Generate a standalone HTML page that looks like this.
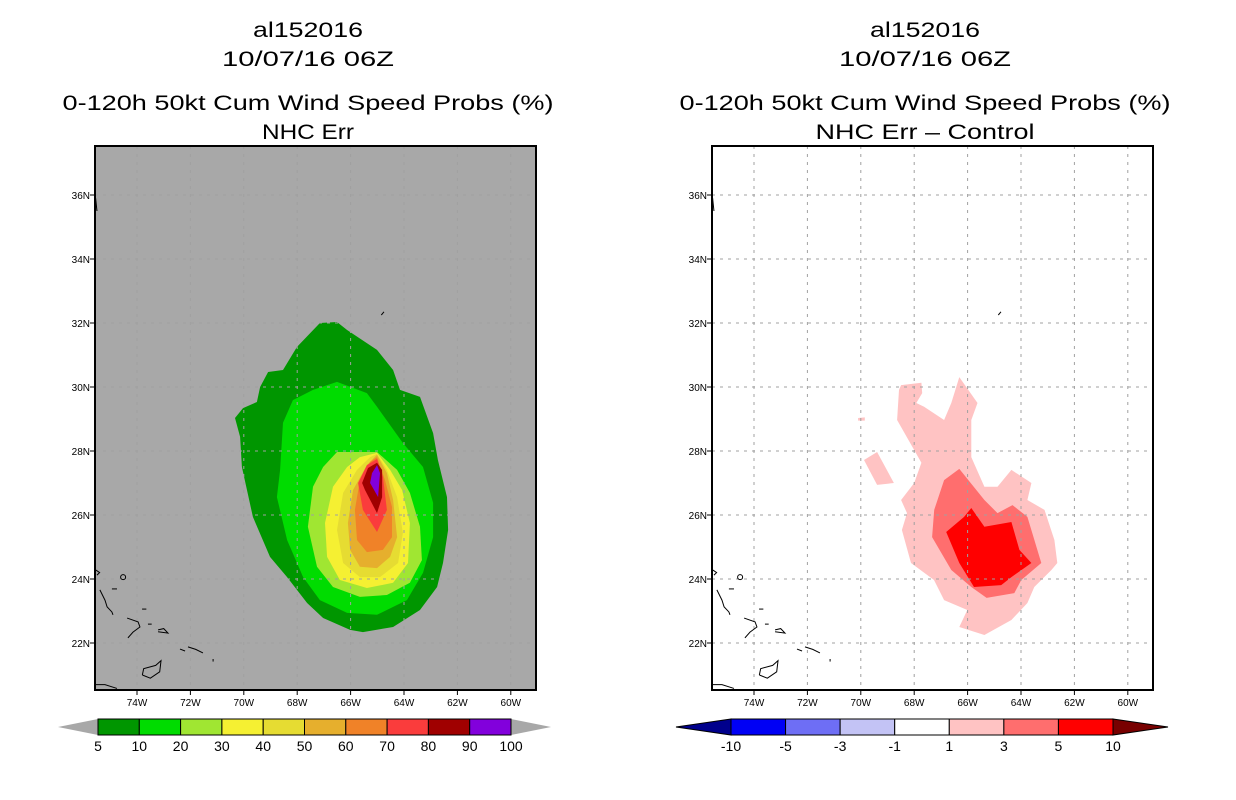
<!DOCTYPE html>
<html><head><meta charset="utf-8"><style>
html,body{margin:0;padding:0;background:#fff;}
svg{display:block;font-family:"Liberation Sans",sans-serif;}
</style></head><body>
<svg id="fig" width="1236" height="800" viewBox="0 0 1236 800">
<rect width="1236" height="800" fill="#fff"/>
</svg>
<script>
// ---- data ----
const lonTicks = [-74,-72,-70,-68,-66,-64,-62,-60];
const lonLabels = ["74W","72W","70W","68W","66W","64W","62W","60W"];
const latTicks = [36,34,32,30,28,26,24,22];
const latLabels = ["36N","34N","32N","30N","28N","26N","24N","22N"];

const probLevels = ["5","10","20","30","40","50","60","70","80","90","100"];
const probColors = ["#009600","#00dc00","#a0e632","#f5f032","#e6dc32","#e6af2d","#f08228","#fa3c3c","#a00000","#8200dc"];
const diffLevels = ["-10","-5","-3","-1","1","3","5","10"];
const diffColors = ["#0000f5","#6e6ef5","#c3c3f5","#ffffff","#ffc3c3","#ff6e6e","#ff0000"];

const p5 = [[-67.15,32.0],[-66.51,32.03],[-66.13,31.78],[-65.01,31.16],[-64.41,30.53],[-64.15,29.91],[-63.4,29.69],[-62.91,28.56],[-62.73,27.72],[-62.39,26.56],[-62.35,25.53],[-62.54,24.5],[-62.76,23.75],[-63.4,23.03],[-64.41,22.5],[-65.54,22.34],[-66.02,22.41],[-67.03,22.78],[-67.63,23.25],[-68.38,24.06],[-69.02,24.69],[-69.66,25.94],[-70.07,27.5],[-70.14,28.44],[-70.33,29.03],[-70.03,29.34],[-69.51,29.53],[-69.39,30.0],[-69.09,30.47],[-68.53,30.53],[-68.01,31.25]];
const p10 = [[-66.51,30.16],[-65.39,29.81],[-65.01,29.38],[-64.04,28.25],[-63.29,27.5],[-62.91,26.38],[-62.91,25.31],[-63.29,24.19],[-63.89,23.34],[-65.01,22.88],[-66.13,22.94],[-67.15,23.34],[-67.78,24.06],[-68.38,25.22],[-68.76,26.56],[-68.64,27.41],[-68.53,28.88],[-68.16,29.59],[-67.41,29.91]];
const p20 = [[-66.51,27.97],[-65.01,27.97],[-64.26,27.41],[-63.78,26.69],[-63.4,25.63],[-63.33,24.59],[-63.78,23.88],[-64.64,23.5],[-65.65,23.44],[-66.66,23.75],[-67.26,24.38],[-67.6,25.63],[-67.41,26.88],[-67.03,27.5]];
const p30 = [[-65.01,27.94],[-64.52,27.41],[-64.07,26.78],[-63.78,25.75],[-63.85,24.5],[-64.41,23.88],[-65.39,23.72],[-66.4,23.97],[-66.88,24.69],[-66.96,25.75],[-66.66,26.88],[-66.13,27.5],[-65.65,27.81]];
const p40 = [[-65.01,27.91],[-64.64,27.41],[-64.26,26.56],[-64.04,25.44],[-64.22,24.5],[-64.9,24.06],[-65.65,24.06],[-66.28,24.5],[-66.51,25.53],[-66.28,26.69],[-65.76,27.41],[-65.27,27.81]];
const p50 = [[-65.01,27.88],[-64.64,27.31],[-64.41,26.47],[-64.26,25.31],[-64.52,24.69],[-65.01,24.34],[-65.65,24.38],[-66.02,24.91],[-66.1,25.75],[-65.91,26.78],[-65.39,27.56]];
const p60 = [[-65.01,27.81],[-64.71,27.09],[-64.45,26.25],[-64.45,25.31],[-64.79,24.91],[-65.39,24.84],[-65.76,25.22],[-65.84,26.16],[-65.65,27.09],[-65.27,27.66]];
const p70 = [[-65.01,27.75],[-64.79,27.19],[-64.64,26.16],[-65.01,25.47],[-65.54,26.16],[-65.72,27.0],[-65.39,27.56]];
const p80 = [[-65.01,27.63],[-64.82,27.41],[-64.82,26.56],[-65.01,26.06],[-65.46,26.78],[-65.57,27.0],[-65.35,27.47]];
const p90 = [[-65.01,27.56],[-64.9,27.31],[-64.97,26.56],[-65.27,27.0],[-65.2,27.31]];

const d1 = [[-68.49,30.06],[-67.73,30.13],[-67.7,29.81],[-67.92,29.5],[-67.63,29.38],[-66.88,28.97],[-66.61,29.5],[-66.31,30.31],[-65.63,29.5],[-65.86,28.97],[-65.86,27.81],[-65.37,26.88],[-64.88,26.88],[-64.36,27.41],[-63.61,27.0],[-63.76,26.47],[-63.12,26.16],[-62.75,25.22],[-62.64,24.5],[-62.86,24.28],[-63.5,23.75],[-63.76,23.25],[-64.36,22.72],[-65.37,22.25],[-66.31,22.5],[-66.01,23.03],[-66.88,23.34],[-67.26,23.97],[-68.12,24.5],[-68.46,25.53],[-68.27,26.06],[-68.49,26.47],[-68.0,27.0],[-67.73,27.63],[-68.64,28.97],[-68.57,29.91]];
const d1b = [[-69.88,27.72],[-69.39,27.97],[-68.76,27.0],[-69.39,26.94]];
const d1c = [[-70.1,29.03],[-69.85,29.05],[-69.85,28.95],[-70.1,28.95]];
const d3 = [[-66.31,27.44],[-65.37,26.47],[-64.88,26.06],[-64.32,26.31],[-63.76,25.94],[-63.24,24.5],[-63.99,23.97],[-64.25,23.56],[-65.29,23.41],[-65.86,23.75],[-66.61,24.28],[-67.33,25.31],[-67.25,26.16],[-66.88,27.09]];
const d5 = [[-65.86,26.22],[-65.37,25.63],[-64.36,25.78],[-64.06,24.91],[-63.61,24.5],[-64.36,24.06],[-64.74,23.81],[-65.76,23.75],[-66.31,24.5],[-66.8,25.47],[-66.13,25.94]];

const coasts = [
 [[-75.39,23.66],[-75.2,23.34],[-75.12,23.13],[-74.94,22.97],[-74.9,22.88]],
 [[-75.54,24.28],[-75.4,24.2],[-75.5,24.12]],
 [[-74.94,23.69],[-74.75,23.69]],
 [[-73.81,23.06],[-73.65,23.06]],
 [[-74.37,22.78],[-73.96,22.66],[-73.89,22.5],[-74.15,22.34],[-74.34,22.16]],
 [[-73.59,22.59],[-73.45,22.59]],
 [[-73.21,22.41],[-73.0,22.45],[-72.84,22.31],[-73.21,22.35]],
 [[-72.39,21.81],[-72.2,21.75]],
 [[-72.09,21.88],[-71.8,21.8],[-71.53,21.69]],
 [[-71.15,21.5],[-71.15,21.42]],
 [[-73.8,21.0],[-73.5,20.9],[-73.15,21.1],[-73.1,21.45],[-73.3,21.3],[-73.75,21.2],[-73.8,21.0]],
 [[-75.55,20.7],[-75.2,20.7],[-74.75,20.58]],
 [[-75.55,35.9],[-75.5,35.5]],
 [[-64.85,32.25],[-64.75,32.35]]
];
const islandCircle = [[-74.52,24.06]];

// ---- axes ----
const NS="http://www.w3.org/2000/svg";
const svg=document.getElementById('fig');
const FR={x0:95,x1:536,y0:146,y1:690};
const xs=(lon,off)=>off+137+(lon+74)*26.7;
const ys=lat=>195+(36-lat)*32;
function el(tag,attrs,parent){const e=document.createElementNS(NS,tag);for(const k in attrs)e.setAttribute(k,attrs[k]);(parent||svg).appendChild(e);return e;}
function poly(pts,off,fill,g){return el('polygon',{points:pts.map(p=>xs(p[0],off).toFixed(1)+','+ys(p[1]).toFixed(1)).join(' '),fill:fill},g);}

function panel(off,bg,name,t4,layers,diff){
  const g=el('g',{});
  
  
  const cx=off+308;
  const tl=[["al152016",30,110],["10/07/16 06Z",59,172],["0-120h 50kt Cum Wind Speed Probs (%)",103,491],[t4,132,diff?219:92]];
  tl.forEach((t,i)=>{const e=el('text',{x:cx,y:t[1]+7,'text-anchor':'middle','font-size':21,textLength:t[2],lengthAdjust:'spacingAndGlyphs',fill:'#000'},g);e.textContent=t[0];
    
    });
  const clipId='clip'+off;
  const cp=el('clipPath',{id:clipId},g);el('rect',{x:FR.x0+off,y:FR.y0,width:FR.x1-FR.x0,height:FR.y1-FR.y0},cp);
  const plot=el('g',{'clip-path':'url(#'+clipId+')'},g);
  
  
  el('rect',{x:FR.x0+off,y:FR.y0,width:FR.x1-FR.x0,height:FR.y1-FR.y0,fill:bg},plot);
  layers.forEach((L,i)=>{const p=poly(L[0],off,L[1],plot);
    
    });
  lonTicks.forEach(l=>{const x=xs(l,off);const ln=el('line',{x1:x,x2:x,y1:FR.y0,y2:FR.y1,stroke:'#a0a0a0','stroke-width':1,'stroke-dasharray':'3,5'},plot);
    
    });
  latTicks.forEach(l=>{const y=ys(l);const ln=el('line',{x1:FR.x0+off,x2:FR.x1+off,y1:y,y2:y,stroke:'#a0a0a0','stroke-width':1,'stroke-dasharray':'3,5'},plot);
    
    });
  coasts.forEach(c=>{const p=el('polyline',{points:c.map(q=>xs(q[0],off)+','+ys(q[1])).join(' '),fill:'none',stroke:'#000','stroke-width':1},plot);
    
    });
  islandCircle.forEach(c=>{const e=el('ellipse',{cx:xs(c[0],off),cy:ys(c[1]),rx:2.5,ry:2.5,fill:'none',stroke:'#000','stroke-width':1},plot);
    
    });
  const fr=el('rect',{x:FR.x0+off,y:FR.y0,width:FR.x1-FR.x0,height:FR.y1-FR.y0,fill:'none',stroke:'#000','stroke-width':2},g);
  
  
  lonTicks.forEach((l,i)=>{const x=xs(l,off);el('line',{x1:x,x2:x,y1:FR.y1,y2:FR.y1+5,stroke:'#000'},g);
    const t=el('text',{x:x,y:706,'text-anchor':'middle','font-size':10,fill:'#000'},g);t.textContent=lonLabels[i];
    
    });
  latTicks.forEach((l,i)=>{const y=ys(l);el('line',{x1:FR.x0+off-5,x2:FR.x0+off,y1:y,y2:y,stroke:'#000'},g);
    const t=el('text',{x:FR.x0+off-5,y:y+4,'text-anchor':'end','font-size':10,fill:'#000'},g);t.textContent=latLabels[i];
    
    });
}

function colorbar(off,x0,x1,colors,labels,leftTri,rightTri,triLen,name){
  const g=el('g',{});
  
  
  const y0=719,y1=735,ym=727;const w=(x1-x0)/colors.length;
  el('polygon',{points:`${x0},${y0} ${x0-triLen},${ym} ${x0},${y1}`,fill:leftTri,stroke:leftTri=='#a8a8a8'?'none':'#000'},g);
  el('polygon',{points:`${x1},${y0} ${x1+triLen},${ym} ${x1},${y1}`,fill:rightTri,stroke:rightTri=='#a8a8a8'?'none':'#000'},g);
  colors.forEach((c,i)=>{const r=el('rect',{x:x0+i*w,y:y0,width:w,height:y1-y0,fill:c,stroke:'#000','stroke-width':1},g);
    
    });
  labels.forEach((l,i)=>{const t=el('text',{x:x0+i*w,y:751,'text-anchor':'middle','font-size':14,fill:'#000'},g);t.textContent=l;
    
    });
}

panel(0,'#a8a8a8','left-panel-probs','NHC Err',
  [[p5,probColors[0]],[p10,probColors[1]],[p20,probColors[2]],[p30,probColors[3]],[p40,probColors[4]],[p50,probColors[5]],[p60,probColors[6]],[p70,probColors[7]],[p80,probColors[8]],[p90,probColors[9]]],false);
panel(617,'#ffffff','right-panel-diff','NHC Err \u2013 Control',
  [[d1,diffColors[4]],[d1b,diffColors[4]],[d1c,diffColors[4]],[d3,diffColors[5]],[d5,diffColors[6]]],true);
colorbar(0,98,511,probColors,probLevels,'#a8a8a8','#a8a8a8',40,'prob-colorbar');
colorbar(617,731,1113,diffColors,diffLevels,'#00008c','#780000',55,'diff-colorbar');
</script>
</body></html>
